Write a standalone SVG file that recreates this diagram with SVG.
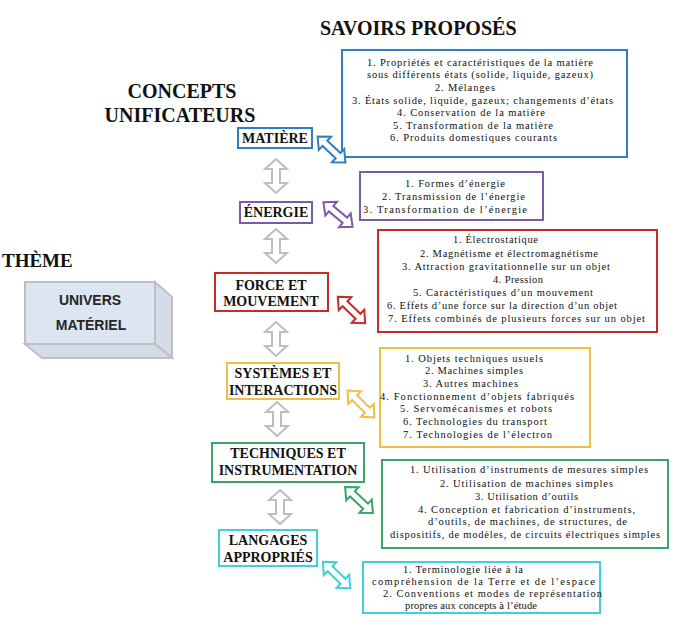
<svg xmlns="http://www.w3.org/2000/svg" xmlns:xlink="http://www.w3.org/1999/xlink" width="675" height="625" viewBox="0 0 675 625">
<style>
.h{font-family:"Liberation Serif","Times New Roman",serif;font-weight:bold;font-size:20px;fill:#111}
.c{font-family:"Liberation Serif","Times New Roman",serif;font-weight:bold;font-size:14px;fill:#111;text-anchor:middle}
.s{font-family:"Liberation Serif","Times New Roman",serif;font-size:10.5px;fill:#111}
.t{font-family:"Liberation Sans",Arial,sans-serif;font-weight:bold;font-size:14px;fill:#262626;text-anchor:middle}
.box{fill:#fff;stroke-width:2}
.blue{stroke:#2f7ebf}.purple{stroke:#7b5aa6}.red{stroke:#c42b2b}.gold{stroke:#f0be45}.green{stroke:#3aa56a}.cyan{stroke:#40d0d8}
.va{fill:#fff;stroke:#bdbdbd;stroke-width:2;stroke-linejoin:miter}
.da{fill:#fff;stroke-width:2;stroke-linejoin:miter}
</style>
<defs>
<path id="varrow" d="M0,-17 L11,-7 L4,-7 L4,7 L11,7 L0,17 L-11,7 L-4,7 L-4,-7 L-11,-7 Z"/>
<path id="darrow" d="M-19,0 L-9,-9 L-9,-3.5 L9,-3.5 L9,-9 L19,0 L9,9 L9,3.5 L-9,3.5 L-9,9 Z"/>
</defs>
<rect width="675" height="625" fill="#fff"/>

<g id="headers">
<text class="h" x="320" y="35">SAVOIRS PROPOSÉS</text>
<text class="h" x="182" y="98" text-anchor="middle">CONCEPTS</text>
<text class="h" x="180" y="122" text-anchor="middle">UNIFICATEURS</text>
<text class="h" x="2" y="267" style="font-size:19px">THÈME</text>
</g>

<g id="theme">
<polygon points="155,282 172,297 172,358 155,344" fill="#d3dce8" stroke="#bfbfbf" stroke-width="2"/>
<polygon points="25,344 155,344 172,358 42,358" fill="#d3dce8" stroke="#bfbfbf" stroke-width="2"/>
<rect x="25" y="282" width="130" height="62" fill="#dce6f2" stroke="#bfbfbf" stroke-width="2"/>
<text class="t" x="90" y="305">UNIVERS</text>
<text class="t" x="91" y="330">MATÉRIEL</text>
</g>

<g id="c-matiere">
<rect class="box blue" x="238" y="128" width="74" height="20"/>
<text class="c" x="275" y="143">MATIÈRE</text>
</g>
<g id="c-energie">
<rect class="box purple" x="240" y="202" width="72" height="21"/>
<text class="c" x="276" y="217">ÉNERGIE</text>
</g>
<g id="c-force">
<rect class="box red" x="215" y="273" width="113" height="38"/>
<text class="c" x="271" y="290">FORCE ET</text>
<text class="c" x="271" y="306">MOUVEMENT</text>
</g>
<g id="c-systemes">
<rect class="box gold" x="227" y="363" width="112" height="36"/>
<text class="c" x="283" y="378">SYSTÈMES ET</text>
<text class="c" x="283" y="395">INTERACTIONS</text>
</g>
<g id="c-techniques">
<rect class="box green" x="212" y="443" width="152" height="39"/>
<text class="c" x="288" y="458">TECHNIQUES ET</text>
<text class="c" x="288" y="475">INSTRUMENTATION</text>
</g>
<g id="c-langages">
<rect class="box cyan" x="219" y="530" width="98" height="36"/>
<text class="c" x="268" y="545">LANGAGES</text>
<text class="c" x="268" y="562">APPROPRIÉS</text>
</g>

<g id="s-matiere">
<rect class="box blue" x="342" y="50" width="285" height="107"/>
<text class="s" x="367" y="66" textLength="226">1. Propriétés et caractéristiques de la matière</text>
<text class="s" x="367" y="78" textLength="226">sous différents états (solide, liquide, gazeux)</text>
<text class="s" x="435" y="91" textLength="60">2. Mélanges</text>
<text class="s" x="352" y="104" textLength="261">3. États solide, liquide, gazeux; changements d’états</text>
<text class="s" x="397" y="116" textLength="148">4. Conservation de la matière</text>
<text class="s" x="393" y="129" textLength="160">5. Transformation de la matière</text>
<text class="s" x="390" y="141" textLength="167">6. Produits domestiques courants</text>
</g>
<g id="s-energie">
<rect class="box purple" x="360" y="172" width="183" height="48"/>
<text class="s" x="405" y="187" textLength="100">1. Formes d’énergie</text>
<text class="s" x="382" y="200" textLength="143">2. Transmission de l’énergie</text>
<text class="s" x="363" y="213" textLength="164">3. Transformation de l’énergie</text>
</g>
<g id="s-force">
<rect class="box red" x="378" y="230" width="279" height="102"/>
<text class="s" x="453" y="243" textLength="85">1. Électrostatique</text>
<text class="s" x="420" y="257" textLength="178">2. Magnétisme et électromagnétisme</text>
<text class="s" x="402" y="270" textLength="208">3. Attraction gravitationnelle sur un objet</text>
<text class="s" x="493" y="283" textLength="50">4. Pression</text>
<text class="s" x="413" y="296" textLength="180">5. Caractéristiques d’un mouvement</text>
<text class="s" x="387" y="309" textLength="230">6. Effets d’une force sur la direction d’un objet</text>
<text class="s" x="388" y="322" textLength="257">7. Effets combinés de plusieurs forces sur un objet</text>
</g>
<g id="s-systemes">
<rect class="box gold" x="380" y="348" width="210" height="99"/>
<text class="s" x="405" y="362" textLength="138">1. Objets techniques usuels</text>
<text class="s" x="425" y="374" textLength="98">2. Machines simples</text>
<text class="s" x="423" y="387" textLength="95">3. Autres machines</text>
<text class="s" x="380" y="400" textLength="194">4. Fonctionnement d’objets fabriqués</text>
<text class="s" x="400" y="412" textLength="152">5. Servomécanismes et robots</text>
<text class="s" x="403" y="425" textLength="144">6. Technologies du transport</text>
<text class="s" x="403" y="438" textLength="149">7. Technologies de l’électron</text>
</g>
<g id="s-techniques">
<rect class="box green" x="382" y="460" width="286" height="88"/>
<text class="s" x="410" y="473" textLength="238">1. Utilisation d’instruments de mesures simples</text>
<text class="s" x="440" y="487" textLength="173">2. Utilisation de machines simples</text>
<text class="s" x="475" y="500" textLength="103">3. Utilisation d’outils</text>
<text class="s" x="418" y="513" textLength="217">4. Conception et fabrication d’instruments,</text>
<text class="s" x="428" y="525" textLength="199">d’outils, de machines, de structures, de</text>
<text class="s" x="390" y="538" textLength="270">dispositifs, de modèles, de circuits électriques simples</text>
</g>
<g id="s-langages">
<rect class="box cyan" x="363" y="562" width="237" height="51"/>
<text class="s" x="403" y="573" textLength="120">1. Terminologie liée à la</text>
<text class="s" x="372" y="585" textLength="223">compréhension de la Terre et de l’espace</text>
<text class="s" x="383" y="597" textLength="219">2. Conventions et modes de représentation</text>
<text class="s" x="405" y="609" textLength="132">propres aux concepts à l’étude</text>
</g>

<g id="connectors">
<use xlink:href="#varrow" class="va" transform="translate(276,176)"/>
<use xlink:href="#varrow" class="va" transform="translate(276,246)"/>
<use xlink:href="#varrow" class="va" transform="translate(276,339)"/>
<use xlink:href="#varrow" class="va" transform="translate(277,419)"/>
<use xlink:href="#varrow" class="va" transform="translate(280,507)"/>
<use xlink:href="#darrow" class="da blue" transform="translate(331.5,149.5) rotate(43)"/>
<use xlink:href="#darrow" class="da purple" transform="translate(338,214.5) rotate(40)"/>
<use xlink:href="#darrow" class="da red" transform="translate(351.5,310) rotate(44)"/>
<use xlink:href="#darrow" class="da gold" transform="translate(361,404) rotate(45)"/>
<use xlink:href="#darrow" class="da green" transform="translate(359,500) rotate(43)"/>
<use xlink:href="#darrow" class="da cyan" transform="translate(336.5,575) rotate(44)"/>
</g>
</svg>
